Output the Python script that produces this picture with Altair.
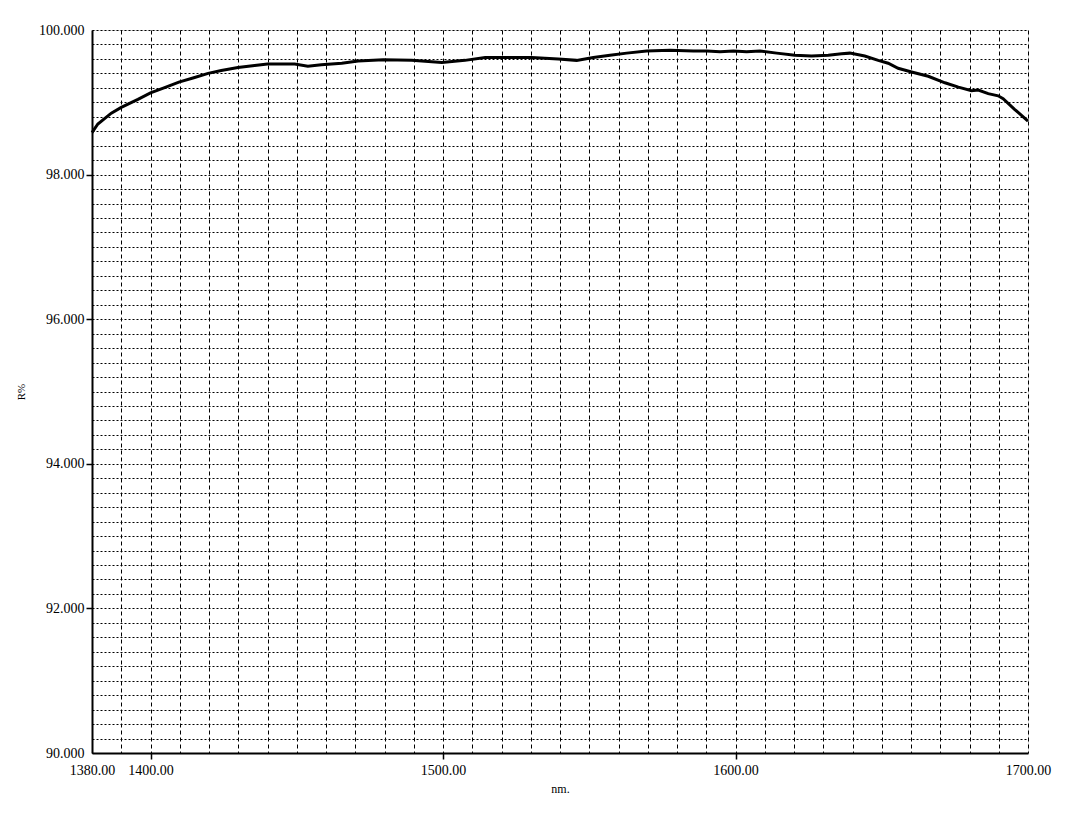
import altair as alt
import pandas as pd

# Wavelength (nm) and reflectance (R%)
wavelength = [1380.0, 1382.0, 1386.6, 1390.0, 1395.7, 1400.0, 1404.6, 1409.7, 1414.8, 1419.7,
              1424.2, 1429.9, 1435.6, 1440.0, 1444.7, 1449.3, 1453.8, 1458.4, 1465.4, 1471.0,
              1479.6, 1489.3, 1499.6, 1507.5, 1514.4, 1522.3, 1530.3, 1539.4, 1545.7, 1551.4,
              1557.1, 1562.8, 1569.6, 1577.6, 1585.6, 1590.2, 1594.7, 1599.3, 1603.8, 1608.4,
              1614.1, 1620.3, 1626.0, 1631.7, 1636.3, 1639.1, 1644.2, 1648.8, 1652.2, 1655.6,
              1660.2, 1665.9, 1671.6, 1676.2, 1680.7, 1683.0, 1686.4, 1689.8, 1691.5, 1695.5,
              1700.0]
reflectance = [98.58, 98.70, 98.85, 98.93, 99.04, 99.13, 99.20, 99.28, 99.34, 99.40,
               99.44, 99.48, 99.51, 99.53, 99.53, 99.53, 99.50, 99.52, 99.54, 99.57,
               99.59, 99.58, 99.55, 99.58, 99.62, 99.62, 99.62, 99.60, 99.58, 99.62,
               99.65, 99.68, 99.71, 99.72, 99.71, 99.71, 99.70, 99.71, 99.70, 99.71,
               99.68, 99.65, 99.64, 99.65, 99.67, 99.68, 99.64, 99.58, 99.54, 99.47,
               99.42, 99.36, 99.27, 99.21, 99.16, 99.17, 99.12, 99.09, 99.05, 98.90,
               98.74]

x_ticks = list(range(1380, 1701, 10))
y_ticks = [round(90 + 0.2 * i, 1) for i in range(51)]
x_labels = [1380, 1400, 1500, 1600, 1700]

df = pd.DataFrame({"nm": wavelength, "R": reflectance})

FONT = "Liberation Serif"

x_axis = alt.Axis(
    values=x_ticks,
    labelExpr="indexof([1380,1400,1500,1600,1700], datum.value) >= 0 ? format(datum.value, '.2f') : ''",
    grid=True, gridDash=[4, 3], gridColor="black", gridWidth=1, gridOpacity=1,
    domainColor="black", domainWidth=2,
    tickColor="black", tickSize=6, tickWidth=1.5,
    tickOpacity={"condition": {"test": "indexof([1400,1500,1600], datum.value) >= 0", "value": 1}, "value": 0},
    labelFont=FONT, labelFontSize=14, labelColor="black", labelPadding=4,
    labelOverlap=False, labelFlush=False,
    title="nm.", titleFont=FONT, titleFontSize=12, titleFontWeight="normal",
    titleColor="black", titlePadding=6,
)
y_axis = alt.Axis(
    values=y_ticks,
    labelExpr="abs(datum.value - round(datum.value / 2) * 2) < 0.001 ? format(datum.value, '.3f') : ''",
    grid=True, gridDash=[2, 2], gridColor="black", gridWidth=1, gridOpacity=1,
    domainColor="black", domainWidth=2,
    tickColor="black", tickSize=6, tickWidth=1.5,
    tickOpacity={"condition": {"test": "abs(datum.value - round(datum.value / 2) * 2) < 0.001 && datum.value > 90.5 && datum.value < 99.5", "value": 1}, "value": 0},
    labelFont=FONT, labelFontSize=14, labelColor="black", labelPadding=2,
    labelOverlap=False, labelFlush=False,
    title="R%", titleFont=FONT, titleFontSize=11, titleFontWeight="normal",
    titleColor="black", titlePadding=12,
)

chart = alt.Chart(df).mark_line(color="black", strokeWidth=3).encode(
    x=alt.X("nm:Q", scale=alt.Scale(domain=[1380, 1700], nice=False, zero=False), axis=x_axis),
    y=alt.Y("R:Q", scale=alt.Scale(domain=[90, 100], nice=False, zero=False), axis=y_axis),
).properties(
    width=936,
    height=723,
    autosize=alt.AutoSizeParams(type="none"),
    padding={"left": 84, "top": 22, "right": 44, "bottom": 52},
).configure_view(
    stroke="black", strokeWidth=2
).configure(background="white")

chart.save("out.html", embed_options={"renderer": "svg", "actions": False})
